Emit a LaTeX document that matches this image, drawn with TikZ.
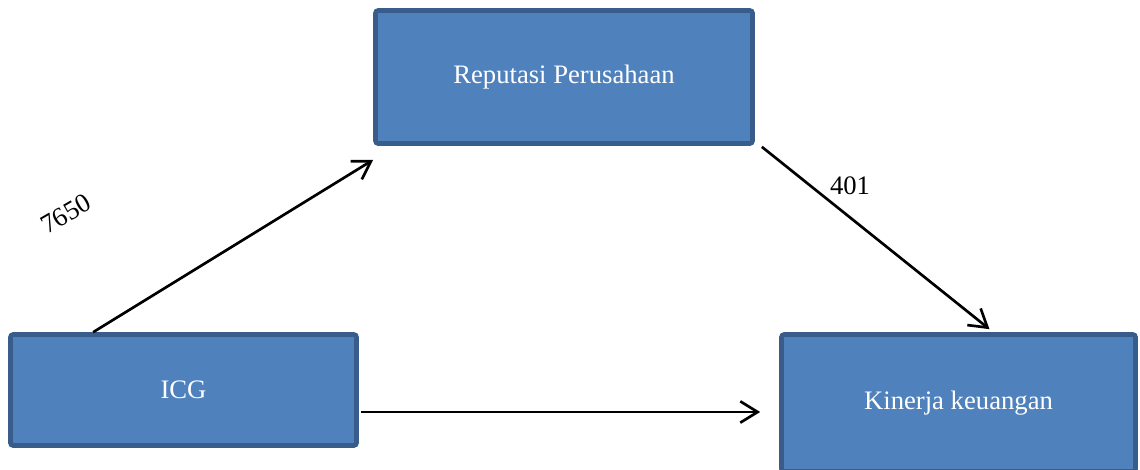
\documentclass[tikz,border=0pt]{standalone}
\usepackage{fontspec}
\setmainfont{Liberation Serif}
\usetikzlibrary{arrows.meta,calc}
\definecolor{boxfill}{HTML}{4F81BD}
\definecolor{boxline}{HTML}{385D8A}
\begin{document}
\begin{tikzpicture}[x=0.75pt,y=-0.75pt,
	varbox/.style={draw=boxline, fill=boxfill, line width=3.5pt, rounded corners=2pt, text=white, font=\fontsize{20}{24}\selectfont, inner sep=0pt},
	link/.style={line width=2pt, -{Straight Barb[length=13pt,width=16pt,line width=2pt]}},
	coef/.style={font=\fontsize{20}{24}\selectfont}]
	\useasboundingbox (0,0) rectangle (1140,469);
	\node[varbox, minimum width=377*0.75pt, minimum height=133*0.75pt] (rep) at (564,77) {Reputasi Perusahaan};
	\node[varbox, minimum width=346*0.75pt, minimum height=111*0.75pt] (icg) at (183.5,390) {ICG};
	\node[varbox, minimum width=354*0.75pt, minimum height=137*0.75pt] (kin) at (958.5,403) {Kinerja keuangan};
	\draw[link] ($(icg.north west)+(85,0)$) -- ($(rep.south west)+(0,14)$);
	\draw[link] ($(rep.south east)+(7,1)$) -- ($(kin.north)+(31,-3)$);
	\draw[link] ($(icg.east)+(2,22)$) -- ($(kin.west)+(-19,9)$);
	\node[coef, rotate=30] (c1) at (66,214) {7650};
	\node[coef] (c2) at (850,186) {401};
\end{tikzpicture}
\end{document}
